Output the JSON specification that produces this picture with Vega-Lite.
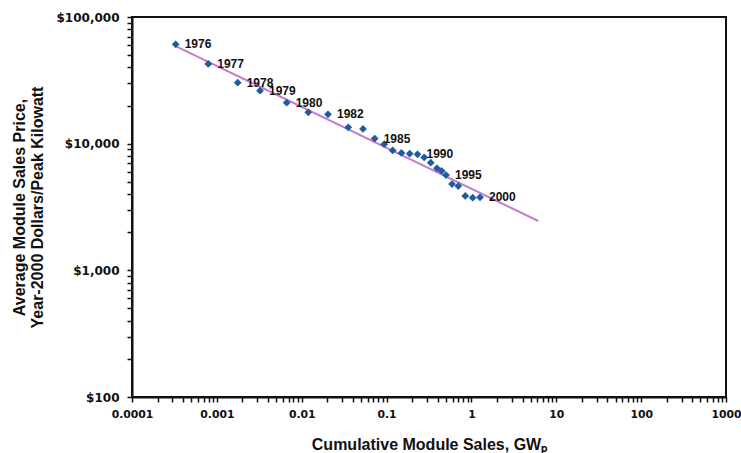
{
  "$schema": "https://vega.github.io/schema/vega-lite/v6.json",
  "width": 594,
  "height": 380,
  "autosize": "none",
  "padding": {"left": 132, "top": 17, "right": 15, "bottom": 56},
  "background": "white",
  "config": {
    "view": {"stroke": "#111111", "strokeWidth": 2},
    "font": "Liberation Sans",
    "axis": {
      "domainColor": "#111111",
      "domainWidth": 2,
      "ticks": true,
      "tickColor": "#111111",
      "tickWidth": 1.5,
      "grid": false,
      "labelFont": "DejaVu Sans",
      "labelFontWeight": "bold",
      "labelFontSize": 12,
      "labelColor": "#111111",
      "titleFont": "Liberation Sans",
      "titleFontWeight": "bold",
      "titleColor": "#111111"
    }
  },
  "datasets": {
    "points": [
      {"year": 1976, "sales": 0.000327, "price": 60900, "label": "1976"},
      {"year": 1977, "sales": 0.000792, "price": 42560, "label": "1977"},
      {"year": 1978, "sales": 0.00176, "price": 30290, "label": "1978"},
      {"year": 1979, "sales": 0.003224, "price": 26200, "label": "1979"},
      {"year": 1980, "sales": 0.00665, "price": 21060, "label": "1980"},
      {"year": 1981, "sales": 0.01196, "price": 17690, "label": ""},
      {"year": 1982, "sales": 0.0204, "price": 17060, "label": "1982"},
      {"year": 1983, "sales": 0.03539, "price": 13470, "label": ""},
      {"year": 1984, "sales": 0.05275, "price": 13060, "label": ""},
      {"year": 1985, "sales": 0.07244, "price": 10980, "label": "1985"},
      {"year": 1986, "sales": 0.09376, "price": 9900, "label": ""},
      {"year": 1987, "sales": 0.1181, "price": 8835, "label": ""},
      {"year": 1988, "sales": 0.1499, "price": 8440, "label": ""},
      {"year": 1989, "sales": 0.1873, "price": 8330, "label": ""},
      {"year": 1990, "sales": 0.2314, "price": 8245, "label": "1990"},
      {"year": 1991, "sales": 0.2775, "price": 7780, "label": ""},
      {"year": 1992, "sales": 0.3311, "price": 7075, "label": ""},
      {"year": 1993, "sales": 0.3928, "price": 6390, "label": ""},
      {"year": 1994, "sales": 0.4461, "price": 6085, "label": ""},
      {"year": 1995, "sales": 0.5013, "price": 5657, "label": "1995"},
      {"year": 1996, "sales": 0.5902, "price": 4803, "label": ""},
      {"year": 1997, "sales": 0.7004, "price": 4632, "label": ""},
      {"year": 1998, "sales": 0.8467, "price": 3864, "label": ""},
      {"year": 1999, "sales": 1.035, "price": 3746, "label": ""},
      {"year": 2000, "sales": 1.262, "price": 3773, "label": "2000"}
    ],
    "trend": [
      {"sales": 0.0003364, "price": 58300},
      {"sales": 6.14, "price": 2452}
    ]
  },
  "layer": [
    {
      "data": {"name": "trend"},
      "mark": {"type": "line", "color": "#c77bcb", "strokeWidth": 2},
      "encoding": {
        "x": {
          "field": "sales",
          "type": "quantitative",
          "scale": {"type": "log", "domain": [0.0001, 1000], "nice": false},
          "axis": {
            "title": "Cumulative Module Sales, GWₚ",
            "titleFontSize": 16,
            "titlePadding": 18,
            "values": [0.0001,0.0002,0.0003,0.0004,0.0005,0.0006,0.0007,0.0008,0.0009,0.001,0.002,0.003,0.004,0.005,0.006,0.007,0.008,0.009,0.01,0.02,0.03,0.04,0.05,0.06,0.07,0.08,0.09,0.1,0.2,0.3,0.4,0.5,0.6,0.7,0.8,0.9,1,2,3,4,5,6,7,8,9,10,20,30,40,50,60,70,80,90,100,200,300,400,500,600,700,800,900,1000],
            "labelExpr": "indexof([0.0001,0.001,0.01,0.1,1,10,100,1000], datum.value) >= 0 ? format(datum.value, '~g') : ''",
            "labelFontSize": 10.8,
            "labelPadding": 6,
            "tickSize": 5,
            "labelFlush": false,
            "labelOverlap": false
          }
        },
        "y": {
          "field": "price",
          "type": "quantitative",
          "scale": {"type": "log", "domain": [100, 100000], "nice": false},
          "axis": {
            "title": ["Average Module Sales Price,", "Year-2000 Dollars/Peak Kilowatt"],
            "titleFontSize": 16,
            "titleLineHeight": 18,
            "titlePadding": 10,
            "values": [100,200,300,400,500,600,700,800,900,1000,2000,3000,4000,5000,6000,7000,8000,9000,10000,20000,30000,40000,50000,60000,70000,80000,90000,100000],
            "labelExpr": "indexof([100,1000,10000,100000], datum.value) >= 0 ? format(datum.value, '$,') : ''",
            "labelPadding": 8,
            "tickSize": 5,
            "labelFlush": false,
            "labelOverlap": false
          }
        }
      }
    },
    {
      "data": {"name": "points"},
      "mark": {"type": "point", "shape": "diamond", "filled": true, "size": 60, "color": "#1d5c9e", "opacity": 1},
      "encoding": {
        "x": {"field": "sales", "type": "quantitative"},
        "y": {"field": "price", "type": "quantitative"}
      }
    },
    {
      "data": {"name": "points"},
      "transform": [{"filter": "datum.label != ''"}],
      "mark": {"type": "text", "align": "left", "baseline": "middle", "dx": 9, "font": "Liberation Sans", "fontWeight": "bold", "fontSize": 12, "color": "#111111"},
      "encoding": {
        "x": {"field": "sales", "type": "quantitative"},
        "y": {"field": "price", "type": "quantitative"},
        "text": {"field": "label"}
      }
    }
  ]
}
